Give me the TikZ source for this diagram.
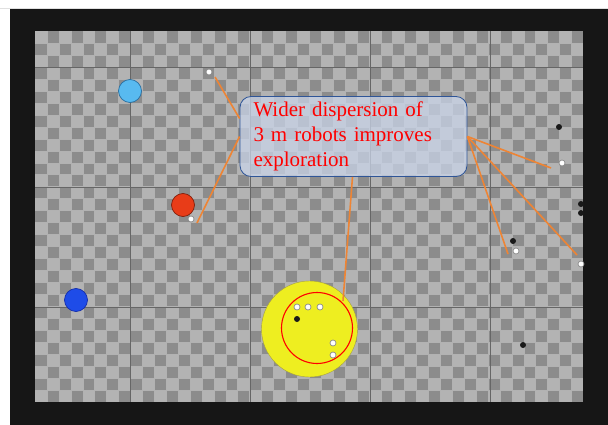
\documentclass[tikz,border=0pt]{standalone}
\usepackage{fontspec}
\setmainfont{Liberation Serif}
\usepackage{tikz}
\usetikzlibrary{positioning}

\definecolor{framebk}{HTML}{161616}
\definecolor{tilelight}{HTML}{B3B3B3}
\definecolor{tiledark}{HTML}{8C8C8C}
\definecolor{callorange}{HTML}{EE8434}
\definecolor{noteblue}{HTML}{C9D4E8}
\definecolor{noteline}{HTML}{2F5597}

\begin{document}
\begin{tikzpicture}[x=1pt, y=-1pt,
  robot/.style={circle, draw=black!45, fill=white, line width=0.7pt,
                inner sep=0pt, minimum size=6pt},
  stopped/.style={circle, fill=black!90, inner sep=0pt, minimum size=6pt},
  source/.style={circle, line width=0.7pt, inner sep=0pt, minimum size=23pt},
  note/.style={draw=noteline, line width=0.8pt, fill=noteblue, fill opacity=0.75,
               text opacity=1, rounded corners=11pt, text=red,
               minimum width=227pt, minimum height=80pt, text width=200pt,
               inner xsep=13pt, align=left,
               font=\fontsize{21}{24.8}\selectfont},
  link/.style={draw=callorange, line width=1.6pt}
]
  \useasboundingbox (0,0) rectangle (608,425);
  \fill[white] (0,0) rectangle (608,425);
  \draw[black!12, line width=0.8pt] (0,8) -- (608,8);
  \fill[framebk] (10,9) rectangle (608,425);

  % arena floor
  \begin{scope}
    \clip (35,31) rectangle (583,402);
    \fill[tiledark] (35,31) rectangle (583,402);
    \foreach \i in {0,...,45}{
      \foreach \j in {0,...,30}{
        \pgfmathtruncatemacro\k{mod(\i+\j,2)}
        \ifnum\k=0
          \fill[tilelight] ({35+11.92*\i},{31+11.97*\j}) rectangle +(11.92,11.97);
        \fi
      }
    }
    \foreach \i in {1,...,45}
      \draw[black!30, line width=0.3pt] ({35+11.92*\i},31) -- ++(0,371);
    \foreach \j in {1,...,30}
      \draw[black!30, line width=0.3pt] (35,{31+11.97*\j}) -- ++(548,0);
    \foreach \x in {130,250,370,490}
      \draw[black!60, line width=0.6pt] (\x,31) -- (\x,402);
    \foreach \y in {67,187,307}
      \draw[black!60, line width=0.6pt] (35,\y) -- (583,\y);
  \end{scope}

  % target area
  \node[circle, draw=black!40!yellow, fill={rgb,255:red,238;green,238;blue,32},
        inner sep=0pt, minimum size=96pt] (target) at (309.5,329) {};
  \node[circle, draw=red, line width=1.1pt, inner sep=0pt, minimum size=71pt]
        (range) at (317,328) {};

  % light sources
  \node[source, draw={rgb,255:red,40;green,110;blue,160},
        fill={rgb,255:red,88;green,186;blue,240}] (lblue) at (130,91) {};
  \node[source, draw={rgb,255:red,130;green,30;blue,10},
        fill={rgb,255:red,232;green,60;blue,24}] (lred) at (183,205) {};
  \node[source, draw={rgb,255:red,20;green,45;blue,170},
        fill={rgb,255:red,30;green,76;blue,232}] (lbluedark) at (76,300) {};

  % robots
  \node[robot] (r1) at (209,72) {};
  \node[robot] (r2) at (191,219) {};
  \node[robot] (r3) at (297,307) {};
  \node[robot] (r4) at (308,307) {};
  \node[robot] (r5) at (320,307) {};
  \node[robot] (r6) at (333,343) {};
  \node[robot] (r7) at (333,355) {};
  \node[robot] (r8) at (562,163) {};
  \node[robot] (r9) at (516,251) {};
  \node[robot] (r10) at (581,264) {};
  \node[stopped] (s1) at (297,319) {};
  \node[stopped] (s2) at (559,127) {};
  \node[stopped] (s3) at (581,204) {};
  \node[stopped] (s4) at (581,213) {};
  \node[stopped] (s5) at (513,241) {};
  \node[stopped] (s6) at (523,345) {};

  % callout
  \node[note] (msg) at (353.5,136.5)
    {Wider dispersion of\\3 m robots improves\\exploration};

  \coordinate (e1) at (215,77);
  \coordinate (e2) at (197,223);
  \coordinate (e3) at (343,301);
  \coordinate (e4) at (551,168);
  \coordinate (e5) at (508,254);
  \coordinate (e6) at (577,255);

  \draw[link] ([yshift=18pt]msg.west) -- (e1);
  \draw[link] (msg.west) -- (e2);
  \draw[link] ([xshift=-1pt]msg.south) -- (e3);
  \draw[link] (msg.east) -- (e4);
  \draw[link] (msg.east) -- (e5);
  \draw[link] (msg.east) -- (e6);
\end{tikzpicture}
\end{document}
